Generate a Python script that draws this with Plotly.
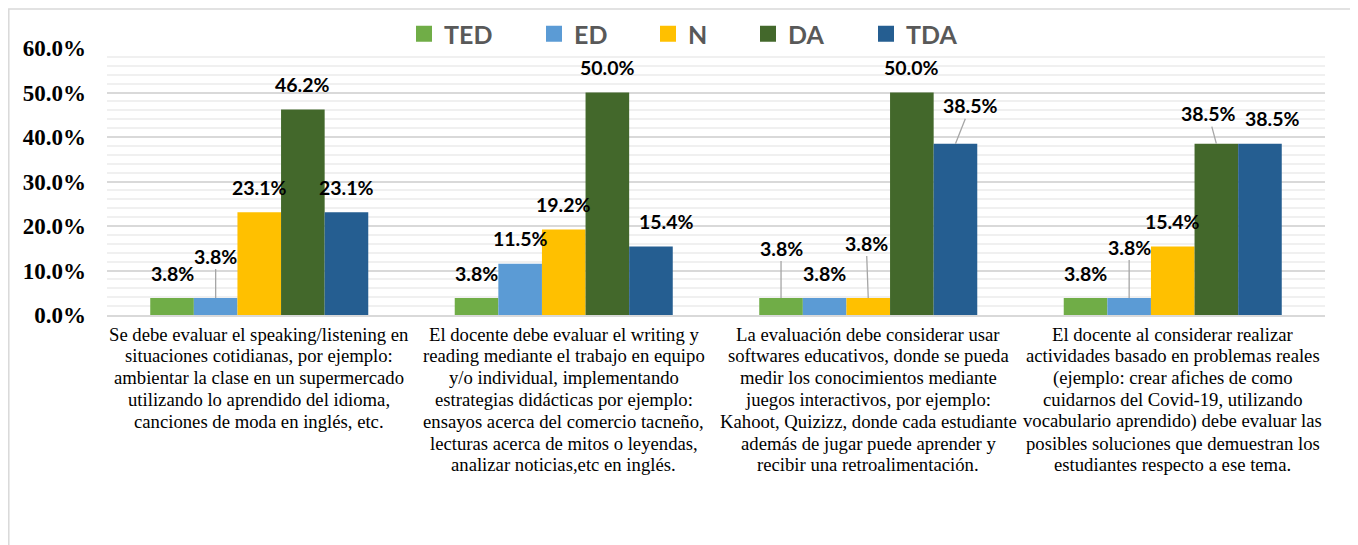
import plotly.graph_objects as go

# ---------------- data ----------------
categories = [
    "Se debe evaluar el speaking/listening en<br>situaciones cotidianas, por ejemplo:<br>ambientar la clase en un supermercado<br>utilizando lo aprendido del idioma,<br>canciones de moda en inglés, etc.",
    "El docente debe evaluar el writing y<br>reading mediante el trabajo en equipo<br>y/o individual, implementando<br>estrategias didácticas por ejemplo:<br>ensayos acerca del comercio tacneño,<br>lecturas acerca de mitos o leyendas,<br>analizar noticias,etc en inglés.",
    "La evaluación debe considerar usar<br>softwares educativos, donde se pueda<br>medir los conocimientos mediante<br>juegos interactivos, por ejemplo:<br>Kahoot, Quizizz, donde cada estudiante<br>además de jugar puede aprender y<br>recibir una retroalimentación.",
    "El docente al considerar realizar<br>actividades basado en problemas reales<br>(ejemplo: crear afiches de como<br>cuidarnos del Covid-19, utilizando<br>vocabulario aprendido) debe evaluar las<br>posibles soluciones que demuestran los<br>estudiantes respecto a ese tema.",
]
series_names = ["TED", "ED", "N", "DA", "TDA"]
ted = [3.8, 3.8, 3.8, 3.8]
ed = [3.8, 11.5, 3.8, 3.8]
n_vals = [23.1, 19.2, 3.8, 15.4]
da = [46.2, 50.0, 50.0, 38.5]
tda = [23.1, 15.4, 38.5, 38.5]
y_ticks = [0, 10, 20, 30, 40, 50, 60]

# ---------------- styles ----------------
colors = ["#70AD47", "#5B9BD5", "#FFC000", "#43682B", "#255E91"]
series_values = [ted, ed, n_vals, da, tda]
bargap = 0.284

# page geometry (screen px); the page body adds an 8px offset
PLOT_L, PLOT_R, PLOT_T, PLOT_B = 107, 1325, 48, 315
OFF = 8
W, H = 1358, 545
PW, PH = PLOT_R - PLOT_L, PLOT_B - PLOT_T


def px_x(X):
    return (X - PLOT_L) / PW


def px_y(Y):
    return (PLOT_B - Y) / PH


# label placement (pixel offsets of label centre from bar top; leader = draw leader line)
label_style = {
    ("ED", 0): (0, -42, True),
    ("TED", 2): (0, -50, True),
    ("N", 2): (-2, -55, True),
    ("TDA", 2): (15, -38, True),
    ("ED", 3): (0, -51, True),
    ("DA", 3): (-8, -30, True),
    ("TDA", 1): (16, -25, False),
    ("TDA", 3): (13, -25, False),
}
default_dy = -25
legend_marker_left = [414, 544, 658, 758, 876]

fig = go.Figure()
xs = list(range(len(categories)))
for k, (name, vals, col) in enumerate(zip(series_names, series_values, colors)):
    fig.add_trace(go.Bar(x=xs, y=vals, name=name, marker_color=col,
                         marker_line_width=0, showlegend=False))
    lg = "legend" if k == 0 else f"legend{k + 1}"
    fig.add_trace(go.Scatter(x=[None], y=[None], mode="markers", name=name,
                             legend=lg,
                             marker=dict(symbol="square", size=16, color=col)))

bw = (1 - bargap) / len(series_names)
annotations = []
for k, (name, vals) in enumerate(zip(series_names, series_values)):
    for gi, v in enumerate(vals):
        xpos = gi + (k - (len(series_names) - 1) / 2) * bw
        dx, dy, leader = label_style.get((name, gi), (0, default_dy, False))
        txt = f"{v:.1f}%"
        font = dict(family="Lato", size=19.5, color="#000000", weight="bold")
        if leader:
            annotations.append(dict(x=xpos, y=v, xref="x", yref="y", text=txt,
                                    showarrow=True, arrowhead=0, arrowwidth=1.3,
                                    arrowcolor="#A6A6A6", ax=dx, ay=dy,
                                    standoff=0, startstandoff=0, font=font))
        else:
            annotations.append(dict(x=xpos, y=v, xref="x", yref="y", text=txt,
                                    showarrow=False, xshift=dx, yshift=-dy,
                                    yanchor="middle", font=font))

# category labels, one annotation per line for Word-like line spacing
for gi, cat in enumerate(categories):
    for li, line in enumerate(cat.split("<br>")):
        annotations.append(dict(x=gi, y=0, xref="x", yref="paper", text=line,
                                showarrow=False, yanchor="middle",
                                yshift=-(19 + li * 21.8),
                                font=dict(family="Liberation Serif", size=18.7,
                                          color="#000000")))

legends = {}
for k in range(len(series_names)):
    key = "legend" if k == 0 else f"legend{k + 1}"
    legends[key] = dict(orientation="h", x=px_x(legend_marker_left[k] - 10), xanchor="left",
                        y=px_y(34), yanchor="middle",
                        font=dict(family="Lato", size=25, color="#595959", weight="bold"),
                        itemsizing="trace", bgcolor="rgba(0,0,0,0)")

fig.update_layout(
    width=W, height=H,
    margin=dict(l=PLOT_L - OFF, r=W - (PLOT_R - OFF), t=PLOT_T - OFF, b=H - (PLOT_B - OFF),
                autoexpand=False),
    paper_bgcolor="white", plot_bgcolor="white",
    barmode="group", bargap=bargap, bargroupgap=0,
    annotations=annotations,
    xaxis=dict(tickvals=xs, range=[-0.5, len(categories) - 0.5],
               showticklabels=False,
               showgrid=False, zeroline=False, showline=True, linecolor="#D9D9D9",
               linewidth=2, ticks=""),
    yaxis=dict(range=[0, 60], tickvals=y_ticks,
               ticktext=[f"{t:.1f}%" for t in y_ticks],
               showgrid=True, gridcolor="#D9D9D9", gridwidth=1.5, zeroline=False,
               ticks="", ticklabelstandoff=20,
               tickfont=dict(family="Liberation Serif", size=23, color="#000000", weight="bold"),
               minor=dict(dtick=2, showgrid=True, gridcolor="#F0F0F0", gridwidth=1.5)),
    shapes=[dict(type="rect", xref="paper", yref="paper",
                 x0=px_x(8.8), x1=px_x(1356),
                 y0=px_y(620), y1=px_y(9),
                 line=dict(color="#D9D9D9", width=1.5), fillcolor="rgba(0,0,0,0)",
                 layer="below")],
    **legends,
)

fig.write_html("out.html")
